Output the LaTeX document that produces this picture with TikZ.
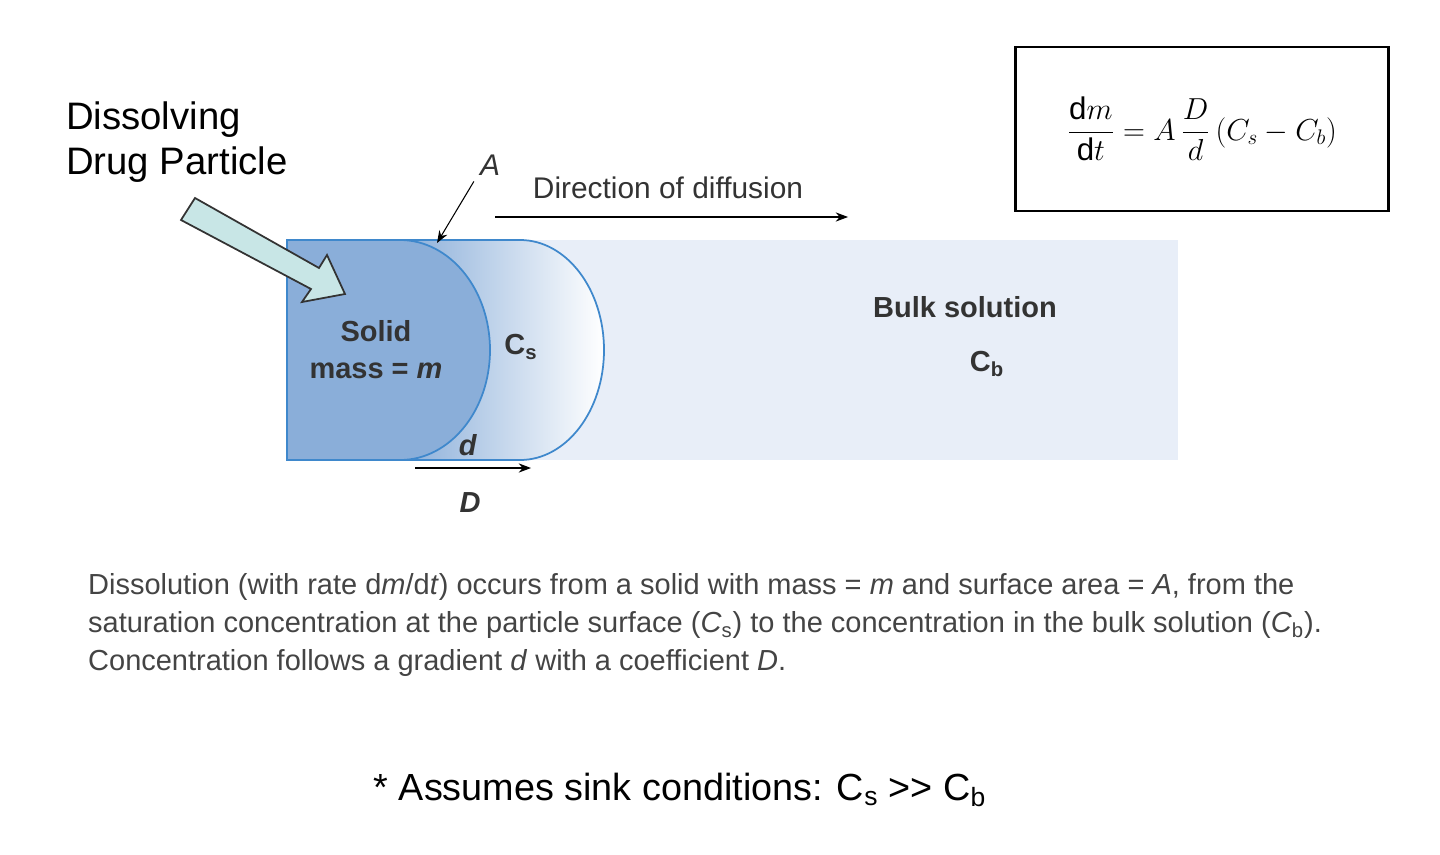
\documentclass[tikz,border=0pt]{standalone}
\usepackage{fontspec}
\setmainfont{Liberation Sans}
\usetikzlibrary{arrows.meta}
\definecolor{bulk}{HTML}{E8EEF8}
\definecolor{solid}{HTML}{8AAED9}
\definecolor{edge}{HTML}{3F88CC}
\definecolor{fat}{HTML}{C8E6E6}
\definecolor{cap}{HTML}{444444}
\tikzset{lbl/.style={font=\bfseries\fontsize{16.5}{21}\selectfont,text=black!80},
  thin arrow/.style={-{Stealth[length=7pt]},line width=0.6pt}}
\begin{document}
\begin{tikzpicture}[x=0.02cm,y=-0.02cm]
\useasboundingbox (0,0) rectangle (1440,855);
%bulk solution
\fill[bulk] (287,240) rectangle (1178,460);
%diffusion layer
\shade[left color=solid,right color=white,draw=edge,line width=1pt]
  (400,240) -- (520,240) arc[start angle=-90,end angle=90,x radius=84,y radius=110] -- (400,460) -- cycle;
%solid
\filldraw[fill=solid,draw=edge,line width=1pt]
  (287,240) -- (400,240) arc[start angle=-90,end angle=90,x radius=90,y radius=110] -- (287,460) -- cycle;
\node (solid) at (376,350) [lbl,align=center] {Solid\\mass = \textit{m}};
\node (cs) at (521,347) [lbl] {C\textsubscript{s}};
\node (bulklbl) at (965,307) [lbl] {Bulk solution};
\node (cb) at (987,364) [lbl] {C\textsubscript{b}};
%surface area
\node (A) at (490,165) [font=\itshape\fontsize{17}{20}\selectfont,text=black!80] {A};
\coordinate (surf) at (437,243);
\draw[thin arrow] (A.south west) -- (surf);
\node (dir) at (668,188) [font=\fontsize{17}{20}\selectfont,text=black!80] {Direction of diffusion};
\coordinate (dirs) at (495,217);
\coordinate (dire) at (848,217);
\draw[thin arrow] (dirs) -- (dire);
%gradient
\node (d) at (468,445) [lbl] {\textit{d}};
\coordinate (ds) at (415,468);
\coordinate (de) at (531,468);
\draw[thin arrow] (ds) -- (de);
\node (D) at (470,503) [lbl] {\textit{D}};
%pointer
\node (title) at (60,142) [anchor=west,align=left,font=\fontsize{21.8}{26}\selectfont] {Dissolving\\Drug Particle};
\filldraw[fill=fat,draw=black!80,line width=1pt]
  (181,220) -- (195,198) -- (319,268) -- (327,255) -- (345,294) -- (302,302) -- (311,289) -- cycle;
%equation
\node (eq) at (1202,129) [draw,line width=1.2pt,minimum width=7.46cm,minimum height=3.28cm,font=\fontsize{17.8}{20}\selectfont]
  {$\displaystyle\frac{\mathrm{d}m}{\mathrm{d}t}=A\,\frac{D}{d}\,(C_s-C_b)$};
%caption
\node (caption) at (82,625) [anchor=west,align=left,text=cap,font=\fontsize{16.5}{21.5}\selectfont]
  {Dissolution (with rate d\textit{m}/d\textit{t}) occurs from a solid with mass = \textit{m} and surface area = \textit{A}, from the\\
   saturation concentration at the particle surface (\textit{C}\textsubscript{s}) to the concentration in the bulk solution (\textit{C}\textsubscript{b}).\\
   Concentration follows a gradient \textit{d} with a coefficient \textit{D}.};
\node (sink) at (680,790) [font=\fontsize{21.5}{24}\selectfont] {* Assumes sink conditions: C\textsubscript{s} {>}{>} C\textsubscript{b}};
\end{tikzpicture}
\end{document}
